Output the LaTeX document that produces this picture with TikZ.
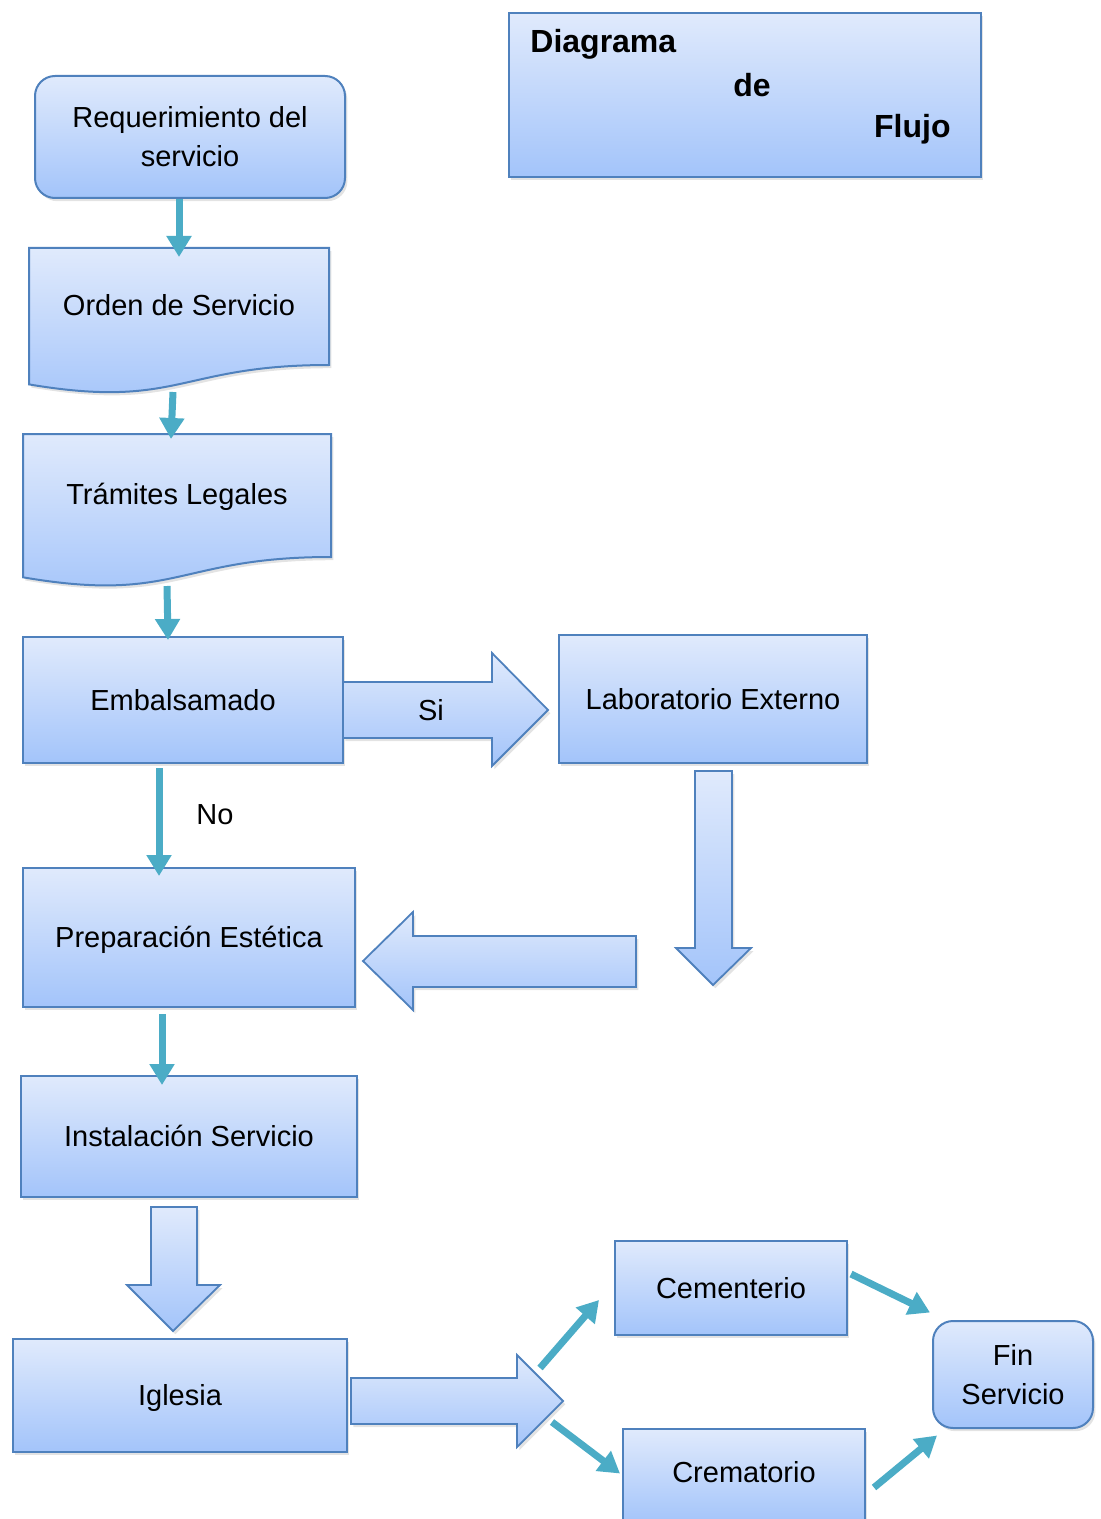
\documentclass[tikz,border=0pt]{standalone}
\usepackage{fontspec}
\setmainfont{Liberation Sans}
\usetikzlibrary{arrows.meta,calc,shadows}

\definecolor{boxtop}{RGB}{224,234,252}
\definecolor{boxbot}{RGB}{163,196,250}
\definecolor{boxline}{RGB}{79,129,189}
\definecolor{flowteal}{RGB}{75,172,198}

\tikzset{
  shade box/.style={draw=boxline, line width=1pt, top color=boxtop, bottom color=boxbot,
    drop shadow={shadow xshift=1.2pt, shadow yshift=-1.6pt, opacity=0.22}},
  stepbox/.style={shade box, rectangle, inner sep=0pt,
    font=\fontsize{14.5}{19.5}\selectfont, text height=10.4pt, text depth=0pt},
  roundbox/.style={shade box, rectangle, rounded corners=10pt, inner sep=0pt,
    align=center, font=\fontsize{14.5}{19.5}\selectfont},
  txt/.style={inner sep=0pt, font=\fontsize{14.5}{19.5}\selectfont, text height=10.4pt, text depth=0pt},
  titletxt/.style={inner sep=0pt, font=\fontsize{16}{19}\selectfont\bfseries},
  flow/.style={draw=flowteal, line width=3.5pt, -{Triangle[width=12pt,length=10.5pt]}},
  blockarrow/.style={shade box, line width=0.9pt, line join=miter}
}

\begin{document}
\begin{tikzpicture}[x=0.5pt,y=-0.5pt]
\useasboundingbox (0,0) rectangle (1100,1519);

% title panel
\node[shade box, rectangle, minimum width=236pt, minimum height=82pt, inner sep=0pt] (title) at (745,95) {};
\node[titletxt, anchor=base west] (t1) at (530,53) {Diagrama};
\node[titletxt, anchor=base] (t2) at (752,97) {de};
\node[titletxt, anchor=base east] (t3) at (951,138) {Flujo};

% first step
\node[roundbox, minimum width=155pt, minimum height=61pt] (req) at (190,137) {Requerimiento del\\servicio};

% document shapes
\path[shade box] (29,248) -- (329,248) -- (329,365) .. controls (179,365) and (179,409.7) .. (29,384.4) -- cycle;
\node[txt] (orden) at (179,305) {Orden de Servicio};
\coordinate (orden-top) at (179,248);
\coordinate (orden-bot) at (173,392);

\path[shade box] (23,434) -- (331,434) -- (331,557) .. controls (177,557) and (177,603.8) .. (23,577.3) -- cycle;
\node[txt] (tram) at (177,494) {Trámites Legales};
\coordinate (tram-top) at (171,434);
\coordinate (tram-bot) at (167,586);

% process boxes
\node[stepbox, minimum width=160pt, minimum height=63pt] (emb) at (183,700) {Embalsamado};
\node[stepbox, minimum width=154pt, minimum height=64pt] (lab) at (713,699) {Laboratorio Externo};
\node[stepbox, minimum width=166pt, minimum height=69.5pt] (prep) at (189,937.5) {Preparación Estética};
\node[stepbox, minimum width=168pt, minimum height=60.5pt] (inst) at (189,1136.5) {Instalación Servicio};
\node[stepbox, minimum width=167pt, minimum height=56.5pt] (igl) at (180,1395.5) {Iglesia};
\node[stepbox, minimum width=116pt, minimum height=47pt] (cem) at (731,1288) {Cementerio};
\node[stepbox, minimum width=121pt, minimum height=47.5pt] (crem) at (744,1476.5) {\raisebox{2pt}{Crematorio}};
\node[roundbox, minimum width=80pt, minimum height=53.5pt] (fin) at (1013,1374.5) {Fin\\Servicio};

% block arrows
\path[blockarrow] (343,682) -- (492,682) -- (492,653) -- (548,710) -- (492,766) -- (492,738) -- (343,738) -- cycle;
\node[txt] (si) at (431,710) {Si};
\path[blockarrow] (695,771) -- (732,771) -- (732,948) -- (751,948) -- (713,985) -- (676,948) -- (695,948) -- cycle;
\path[blockarrow] (636,936) -- (636,987) -- (413,987) -- (413,1010) -- (363,961) -- (413,912) -- (413,936) -- cycle;
\path[blockarrow] (151,1207) -- (197,1207) -- (197,1285) -- (220,1285) -- (173,1331) -- (127,1285) -- (151,1285) -- cycle;
\path[blockarrow] (351,1378) -- (517,1378) -- (517,1355) -- (563,1401) -- (517,1447) -- (517,1424) -- (351,1424) -- cycle;
\coordinate (igl-tip) at (563,1401);

% teal connectors
\draw[flow] ($(req.south)+(-11,0)$) -- ($(orden-top)+(0,9)$);
\draw[flow] (orden-bot) -- ($(tram-top)+(0,5)$);
\draw[flow] (tram-bot) -- ($(emb.north)+(-15,4)$);
\draw[flow] ($(emb.south)+(-24,4)$) -- ($(prep.north)+(-30,9)$);
\node[txt] (no) at (215,814) {No};
\draw[flow] ($(prep.south)+(-27,6)$) -- ($(inst.north)+(-27,10)$);

\draw[flow] ($(igl-tip)+(-23,-33)$) -- ($(cem.west)+(-15,12)$);
\draw[flow] ($(igl-tip)+(-11,21)$) -- ($(crem.west)+(-2,-3)$);
\draw[flow] ($(cem.east)+(3,-14)$) -- ($(fin.west)+(-2,-62)$);
\draw[flow] ($(crem.east)+(8,11)$) -- ($(fin.west)+(5,61)$);
\end{tikzpicture}
\end{document}
